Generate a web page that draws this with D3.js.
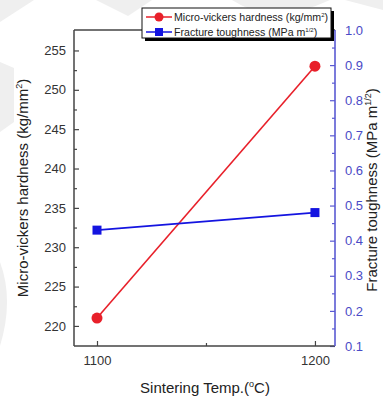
<!DOCTYPE html>
<html>
<head>
<meta charset="utf-8">
<script src="https://cdn.jsdelivr.net/npm/d3@7"></script>
<style>
  html, body { margin: 0; padding: 0; background: #fff; }
  svg { display: block; font-family: Arial, "Liberation Sans", sans-serif; }
</style>
</head>
<body>
<svg id="chart" width="383" height="401"></svg>
<script>
// Sintering temperature (°C)
const temps = [1100, 1200];
// Micro-vickers hardness (kg/mm²)
const hardness = [221, 253];
// Fracture toughness (MPa·m^1/2)
const toughness = [0.43, 0.48];
// Tick values
const xTicks = [1100, 1200];
const xMinorTicks = [1150];
const leftTicks = [220, 225, 230, 235, 240, 245, 250, 255];
const rightTicks = [0.1, 0.2, 0.3, 0.4, 0.5, 0.6, 0.7, 0.8, 0.9, 1.0];

const svg = d3.select("#chart");
const L = 74, R = 335, T = 30, B = 346;

const x = d3.scaleLinear().domain([1089.45, 1209.2]).range([L, R]);
const yL = d3.scaleLinear().domain([217.45, 257.6]).range([B, T]);
const yR = d3.scaleLinear().domain([0.1, 1.0]).range([B, T]);

const red = "#e8202a", blue = "#1414e0";
const axisGray = "#444", rightAxisCol = "#5a5ad2", rightLabelCol = "#4a4ac6";

// faint background shapes
const bg = svg.append("g").attr("fill", "#efefef");
bg.append("path").attr("d", "M0,0 L34,0 L0,22 Z");
bg.append("path").attr("d", "M96,0 L152,0 L128,16 Z");
bg.append("path").attr("d", "M232,0 L330,0 Q300,14 270,16 Q248,10 232,0 Z");
bg.append("path").attr("d", "M345,0 L383,0 L383,10 Z");
bg.append("path").attr("d", "M0,62 L14,68 L14,122 L0,132 Z");
bg.append("path").attr("d", "M0,262 Q14,300 0,346 Z");

// left axis
const gl = svg.append("g").attr("transform", `translate(${L},0)`);
gl.call(d3.axisLeft(yL).tickValues(leftTicks).tickSizeInner(-5).tickSizeOuter(0).tickPadding(8));
gl.append("g").call(d3.axisLeft(yL).tickValues(d3.range(222.5, 257, 5)).tickSizeInner(-3).tickSizeOuter(0).tickFormat(""));
gl.selectAll("path.domain").remove();
gl.selectAll("line").attr("stroke", axisGray).attr("stroke-width", 1.2);
gl.selectAll("text").attr("fill", "#333").attr("font-size", 13).attr("font-family", "Arial, 'Liberation Sans', sans-serif");

// bottom axis
const gb = svg.append("g").attr("transform", `translate(0,${B})`);
gb.call(d3.axisBottom(x).tickValues(xTicks).tickSizeInner(-5).tickSizeOuter(0).tickPadding(10).tickFormat(d3.format("d")));
gb.append("g").call(d3.axisBottom(x).tickValues(xMinorTicks).tickSizeInner(-3).tickSizeOuter(0).tickFormat(""));
gb.selectAll("path.domain").remove();
gb.selectAll("line").attr("stroke", axisGray).attr("stroke-width", 1.2);
gb.selectAll("text").attr("fill", "#333").attr("font-size", 13).attr("font-family", "Arial, 'Liberation Sans', sans-serif");

// right axis
const gr = svg.append("g").attr("transform", `translate(${R},0)`);
gr.call(d3.axisRight(yR).tickValues(rightTicks).tickSizeInner(-5).tickSizeOuter(0).tickPadding(10).tickFormat(d3.format(".1f")));
gr.append("g").call(d3.axisRight(yR).tickValues(d3.range(0.15, 1.0, 0.1)).tickSizeInner(-3).tickSizeOuter(0).tickFormat(""));
gr.selectAll("path.domain").remove();
gr.selectAll("line").attr("stroke", rightAxisCol).attr("stroke-width", 1.2);
gr.selectAll("text").attr("fill", rightLabelCol).attr("font-size", 13).attr("font-family", "Arial, 'Liberation Sans', sans-serif");

// frame lines
svg.append("line").attr("x1", L).attr("x2", L).attr("y1", T).attr("y2", B).attr("stroke", axisGray).attr("stroke-width", 1.5);
svg.append("line").attr("x1", L).attr("x2", R).attr("y1", B).attr("y2", B).attr("stroke", axisGray).attr("stroke-width", 1.5);
svg.append("line").attr("x1", L).attr("x2", R).attr("y1", T).attr("y2", T).attr("stroke", axisGray).attr("stroke-width", 1.5);
svg.append("line").attr("x1", R).attr("x2", R).attr("y1", T).attr("y2", B).attr("stroke", rightAxisCol).attr("stroke-width", 1.6);

// hardness series
const hData = temps.map((t, i) => ({ t, v: hardness[i] }));
svg.append("path").datum(hData)
  .attr("d", d3.line().x(d => x(d.t)).y(d => yL(d.v)))
  .attr("fill", "none").attr("stroke", red).attr("stroke-width", 1.6);
svg.selectAll("circle.h").data(hData).join("circle").attr("class", "h")
  .attr("cx", d => x(d.t)).attr("cy", d => yL(d.v)).attr("r", 5.5).attr("fill", red);

// toughness series
const tData = temps.map((t, i) => ({ t, v: toughness[i] }));
svg.append("path").datum(tData)
  .attr("d", d3.line().x(d => x(d.t)).y(d => yR(d.v)))
  .attr("fill", "none").attr("stroke", blue).attr("stroke-width", 1.6);
svg.selectAll("rect.t").data(tData).join("rect").attr("class", "t")
  .attr("x", d => x(d.t) - 4.5).attr("y", d => yR(d.v) - 4.5).attr("width", 9).attr("height", 9).attr("fill", blue);

// legend
const lg = svg.append("g");
lg.append("rect").attr("x", 145).attr("y", 11).attr("width", 189).attr("height", 30).attr("fill", "#000");
lg.append("rect").attr("x", 142).attr("y", 8).attr("width", 189).attr("height", 30).attr("fill", "#fff").attr("stroke", "#111").attr("stroke-width", 1);
const legendItems = [
  { color: red, shape: "circle", y: 17, label: "Micro-vickers hardness (kg/mm", sup: "2", tail: ")" },
  { color: blue, shape: "square", y: 32, label: "Fracture toughness (MPa m", sup: "1/2", tail: ")" }
];
legendItems.forEach(it => {
  lg.append("line").attr("x1", 146).attr("x2", 172).attr("y1", it.y).attr("y2", it.y).attr("stroke", it.color).attr("stroke-width", 1.5);
  if (it.shape === "circle") lg.append("circle").attr("cx", 159).attr("cy", it.y).attr("r", 4.5).attr("fill", it.color);
  else lg.append("rect").attr("x", 155).attr("y", it.y - 4).attr("width", 8).attr("height", 8).attr("fill", it.color);
  const t = lg.append("text").attr("x", 174).attr("y", it.y + 3.5).attr("font-size", 10.6).attr("fill", "#222");
  t.append("tspan").text(it.label);
  t.append("tspan").attr("font-size", 6).attr("dy", -4).text(it.sup);
  t.append("tspan").attr("dy", 4).text(it.tail);
});

// axis titles
const xt = svg.append("text").attr("x", 205).attr("y", 393).attr("text-anchor", "middle").attr("font-size", 15).attr("fill", "#222");
xt.append("tspan").text("Sintering Temp.(");
xt.append("tspan").attr("font-size", 9).attr("dy", -6).text("o");
xt.append("tspan").attr("dy", 6).text("C)");

const lt = svg.append("text").attr("transform", "translate(28,188) rotate(-90)").attr("text-anchor", "middle").attr("font-size", 15).attr("fill", "#222");
lt.append("tspan").text("Micro-vickers hardness (kg/mm");
lt.append("tspan").attr("font-size", 9).attr("dy", -6).text("2");
lt.append("tspan").attr("dy", 6).text(")");

const rt = svg.append("text").attr("transform", "translate(377,190) rotate(-90)").attr("text-anchor", "middle").attr("font-size", 15).attr("fill", "#222");
rt.append("tspan").text("Fracture toughness (MPa m");
rt.append("tspan").attr("font-size", 9).attr("dy", -6).text("1/2");
rt.append("tspan").attr("dy", 6).text(")");
</script>
</body>
</html>
